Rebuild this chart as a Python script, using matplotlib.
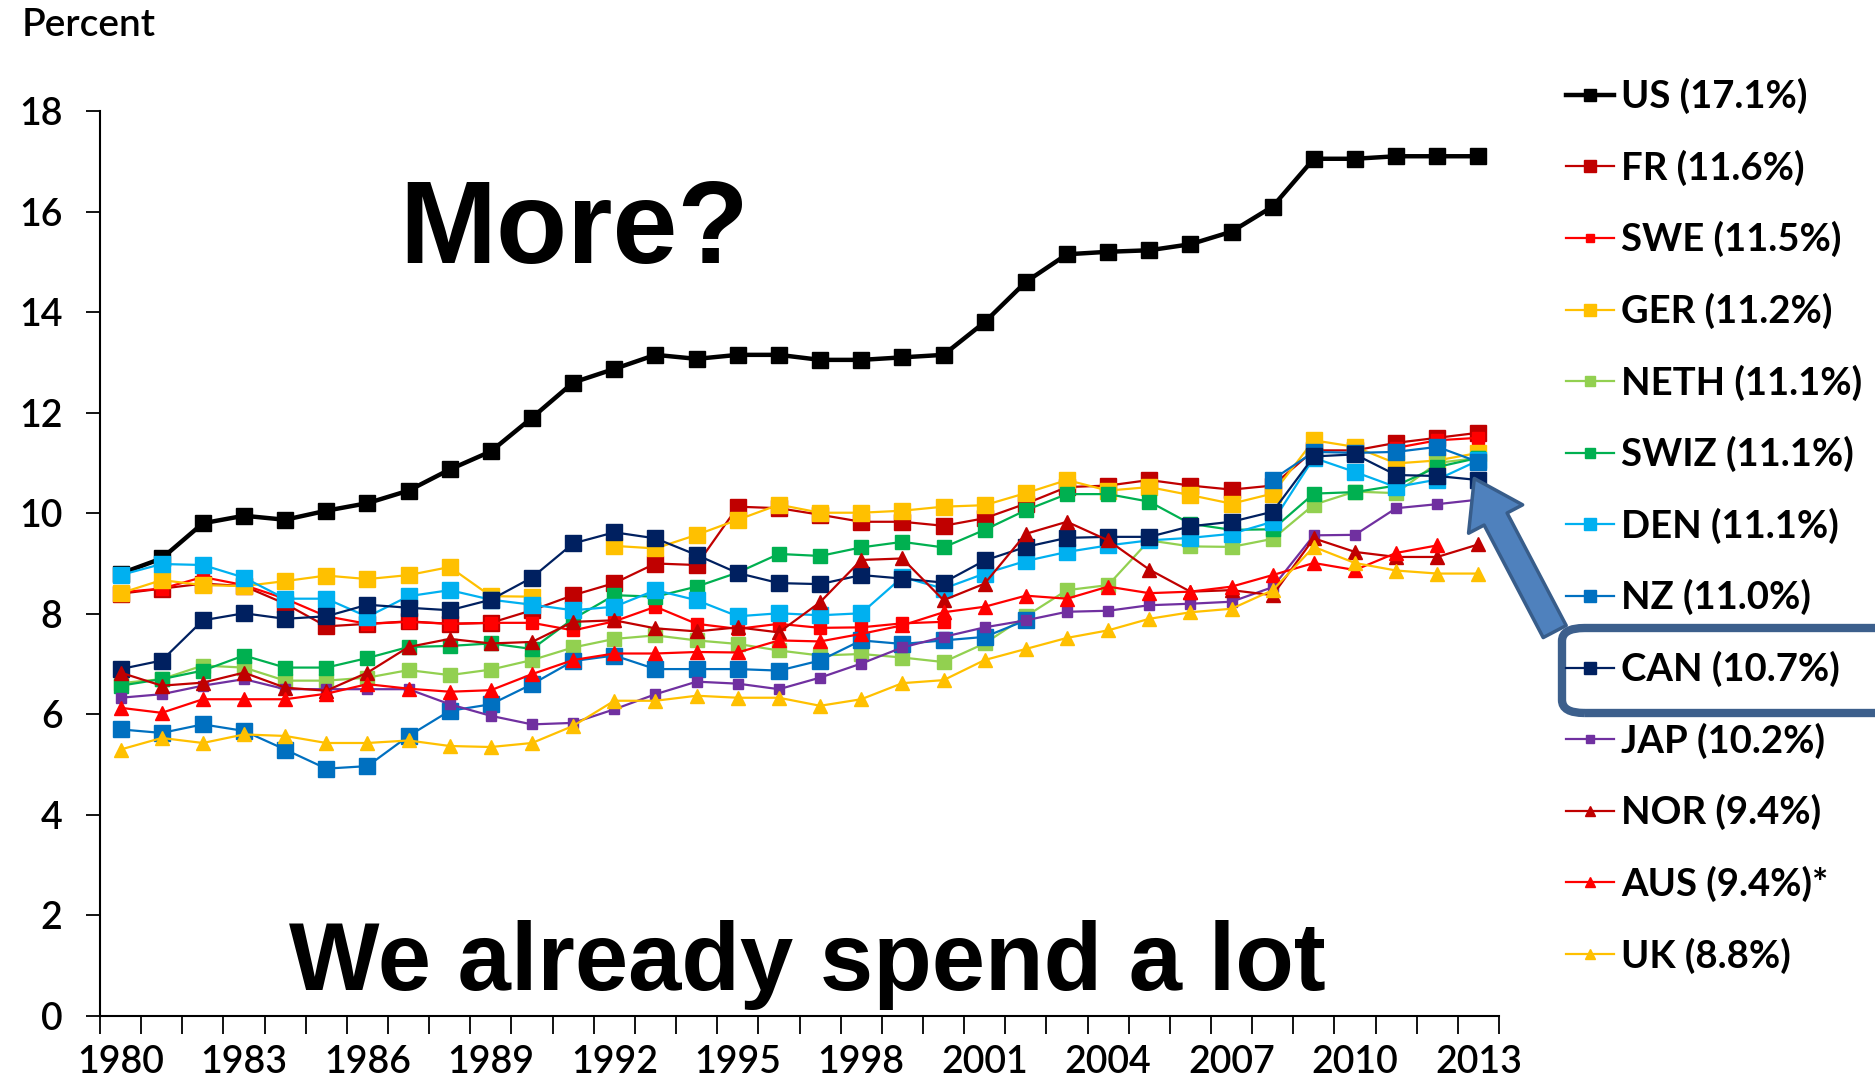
import numpy as np
import matplotlib.pyplot as plt
from matplotlib.patches import FancyArrowPatch, FancyBboxPatch

nan = np.nan
years = list(range(1980, 2014))

# health spending, percent of GDP
us = [8.8, 9.1, 9.8, 9.95, 9.87, 10.05, 10.2, 10.45, 10.87, 11.23, 11.9, 12.6, 12.87, 13.15, 13.07, 13.15, 13.15,
      13.05, 13.05, 13.1, 13.15, 13.8, 14.6, 15.15, 15.2, 15.23, 15.35, 15.6, 16.1, 17.05, 17.05, 17.1, 17.1, 17.1]
fr = [8.4, 8.5, 8.6, 8.55, 8.2, 7.75, 7.8, 7.85, 7.8, 7.82, 8.07, 8.37, 8.61, 9.0, 8.97, 10.13, 10.1,
      9.97, 9.83, 9.83, 9.75, 9.9, 10.19, 10.52, 10.55, 10.66, 10.55, 10.47, 10.55, 11.25, 11.25, 11.4, 11.5, 11.6]
swe = [8.43, 8.5, 8.73, 8.57, 8.3, 7.95, 7.8, 7.84, 7.8, 7.82, 7.82, 7.67, 7.85, 8.14, 7.8, 7.7, 7.8,
       7.72, 7.73, 7.81, 7.84, nan, nan, nan, nan, nan, nan, nan, nan, nan, nan, 11.3, 11.45, 11.5]
ger = [8.41, 8.67, 8.57, 8.55, 8.65, 8.76, 8.69, 8.77, 8.93, 8.35, 8.34, nan, 9.35, 9.3, 9.57, 9.87, 10.17,
       10.01, 10.01, 10.05, 10.13, 10.16, 10.4, 10.66, 10.45, 10.52, 10.36, 10.19, 10.39, 11.45, 11.32, 10.99, 11.05, 11.2]
neth = [6.62, 6.7, 6.97, 6.93, 6.67, 6.67, 6.73, 6.88, 6.78, 6.89, 7.08, 7.33, 7.5, 7.57, 7.47, 7.4, 7.27,
        7.17, 7.2, 7.13, 7.04, 7.41, 7.95, 8.47, 8.57, 9.46, 9.34, 9.33, 9.49, 10.17, 10.43, 10.4, 11.0, 11.1]
swiz = [6.57, 6.7, 6.87, 7.17, 6.93, 6.93, 7.12, 7.34, 7.36, 7.41, 7.3, 7.9, 8.37, 8.34, 8.54, 8.82, 9.19,
        9.15, 9.32, 9.43, 9.32, 9.67, 10.06, 10.38, 10.38, 10.23, 9.79, 9.67, 9.68, 10.39, 10.42, 10.55, 10.92, 11.1]
den = [8.77, 8.99, 8.97, 8.72, 8.3, 8.3, 7.94, 8.35, 8.47, 8.28, 8.18, 8.07, 8.14, 8.47, 8.27, 7.95, 8.01,
       7.97, 8.01, 8.73, 8.5, 8.8, 9.05, 9.23, 9.36, 9.46, 9.51, 9.59, 9.83, 11.1, 10.82, 10.52, 10.67, 11.05]
nz = [5.7, 5.63, 5.8, 5.67, 5.3, 4.92, 4.97, 5.57, 6.07, 6.2, 6.6, 7.06, 7.17, 6.9, 6.9, 6.9, 6.87,
      7.07, 7.47, 7.4, 7.47, 7.54, 7.87, nan, nan, nan, nan, nan, 10.67, 11.22, 11.2, 11.22, 11.32, 11.02]
can = [6.9, 7.07, 7.87, 8.01, 7.9, 7.95, 8.18, 8.12, 8.07, 8.28, 8.72, 9.4, 9.62, 9.5, 9.17, 8.81, 8.61,
       8.59, 8.77, 8.7, 8.62, 9.06, 9.33, 9.51, 9.53, 9.53, 9.74, 9.83, 10.03, 11.13, 11.17, 10.76, 10.74, 10.66]
jap = [6.33, 6.4, 6.57, 6.7, 6.5, 6.5, 6.5, 6.5, 6.2, 5.97, 5.8, 5.83, 6.1, 6.4, 6.65, 6.61, 6.5,
       6.73, 7.01, 7.33, 7.54, 7.73, 7.87, 8.04, 8.06, 8.17, 8.2, 8.24, 8.53, 9.56, 9.57, 10.1, 10.18, 10.27]
nor = [6.83, 6.57, 6.63, 6.83, 6.53, 6.47, 6.83, 7.34, 7.5, 7.41, 7.44, 7.84, 7.87, 7.71, 7.65, 7.73, 7.63,
       8.23, 9.07, 9.1, 8.27, 8.6, 9.59, 9.83, 9.46, 8.88, 8.44, 8.47, 8.37, 9.5, 9.23, 9.13, 9.13, 9.38]
aus = [6.13, 6.03, 6.3, 6.3, 6.3, 6.41, 6.6, 6.51, 6.45, 6.48, 6.8, 7.08, 7.21, 7.21, 7.24, 7.23, 7.47,
       7.45, 7.6, 7.77, 8.03, 8.14, 8.36, 8.3, 8.54, 8.41, 8.44, 8.54, 8.77, 9.01, 8.87, 9.21, 9.36, nan]
uk = [5.3, 5.53, 5.43, 5.6, 5.57, 5.43, 5.43, 5.48, 5.37, 5.35, 5.43, 5.77, 6.27, 6.27, 6.37, 6.33, 6.33,
      6.17, 6.3, 6.62, 6.68, 7.08, 7.3, 7.52, 7.67, 7.9, 8.03, 8.1, 8.47, 9.33, 9.01, 8.86, 8.8, 8.8]

labels = ['US (17.1%)', 'FR (11.6%)', 'SWE (11.5%)', 'GER (11.2%)', 'NETH (11.1%)', 'SWIZ (11.1%)',
          'DEN (11.1%)', 'NZ (11.0%)', 'CAN (10.7%)', 'JAP (10.2%)', 'NOR (9.4%)', 'AUS (9.4%)*', 'UK (8.8%)']
series = [us, fr, swe, ger, neth, swiz, den, nz, can, jap, nor, aus, uk]
colors = ['#000000', '#C00000', '#FF0000', '#FFC000', '#92D050', '#00B050',
          '#00B0F0', '#0070C0', '#002060', '#7030A0', '#C00000', '#FF0000', '#FFC000']
markers = ['s', 's', 's', 's', 's', 's', 's', 's', 's', 's', '^', '^', '^']
msizes = [12, 11, 8, 11, 10, 10, 11, 11, 11, 7.5, 10, 10, 10]
lwidths = [3.2, 1.6, 1.6, 1.6, 1.6, 1.6, 1.6, 1.6, 1.6, 1.6, 1.6, 1.6, 1.6]

fig = plt.figure(figsize=(18.75, 10.81), dpi=100)
ax = fig.add_axes([100 / 1875, 65 / 1081, 1399 / 1875, 905 / 1081])

handles = []
for i in range(len(series)):
    h, = ax.plot(years, series[i], color=colors[i], marker=markers[i], markersize=msizes[i],
                 markeredgecolor=colors[i], lw=lwidths[i], zorder=3 + i, label=labels[i])
    handles.append(h)

ax.set_xlim(1979.5, 2013.5)
ax.set_ylim(0, 18)
ax.set_yticks(range(0, 19, 2))
ax.set_xticks(years[::3])
ax.set_xticks(np.arange(1979.5, 2014, 1), minor=True)
ax.tick_params(axis='x', which='major', length=0, pad=21, labelsize=27)
ax.tick_params(axis='x', which='minor', length=13, width=1.3, direction='out')
ax.tick_params(axis='y', which='major', length=10, width=1.3, pad=17, labelsize=27)
for s in ['top', 'right']:
    ax.spines[s].set_visible(False)
for s in ['left', 'bottom']:
    ax.spines[s].set_linewidth(1.5)
for lab in ax.get_xticklabels() + ax.get_yticklabels():
    lab.set_family('Lato')
    lab.set_fontweight('semibold')

fig.text(22 / 1875, 1 - 25 / 1081, 'Percent', family='Lato', fontweight='semibold', fontsize=28,
         ha='left', va='center')

leg = fig.legend(handles=handles, loc='upper left', bbox_to_anchor=(1566 / 1875, 1 - 78 / 1081),
                 frameon=False, prop={'family': 'Lato', 'weight': 'bold', 'size': 27.5},
                 handlelength=1.25, handletextpad=0.2, labelspacing=0.927, borderpad=0,
                 borderaxespad=0, markerscale=0.75)

fig.text(574 / 1875, 1 - 233 / 1081, 'More?', family='Liberation Sans', fontweight='bold',
         fontsize=84, ha='center', va='center')
fig.text(807 / 1875, 1 - 965 / 1081, 'We already spend a lot', family='Liberation Sans',
         fontweight='bold', fontsize=69, ha='center', va='center')

box = FancyBboxPatch((1562 / 1875, 1 - 713 / 1081), 400 / 1875, 85 / 1081,
                     boxstyle='round,pad=0,rounding_size=0.012', transform=fig.transFigure,
                     fc='none', ec='#3C5F8C', lw=6, clip_on=False)
fig.add_artist(box)
arrow = FancyArrowPatch((1556 / 1875, 1 - 634 / 1081), (1473 / 1875, 1 - 476 / 1081),
                        transform=fig.transFigure, arrowstyle='simple,head_width=2.0,head_length=1.5,tail_width=0.85',
                        mutation_scale=22, fc='#4F81BD', ec='#385D8A', lw=2.5, zorder=30)
fig.add_artist(arrow)

fig.savefig('out.png', dpi=100)
